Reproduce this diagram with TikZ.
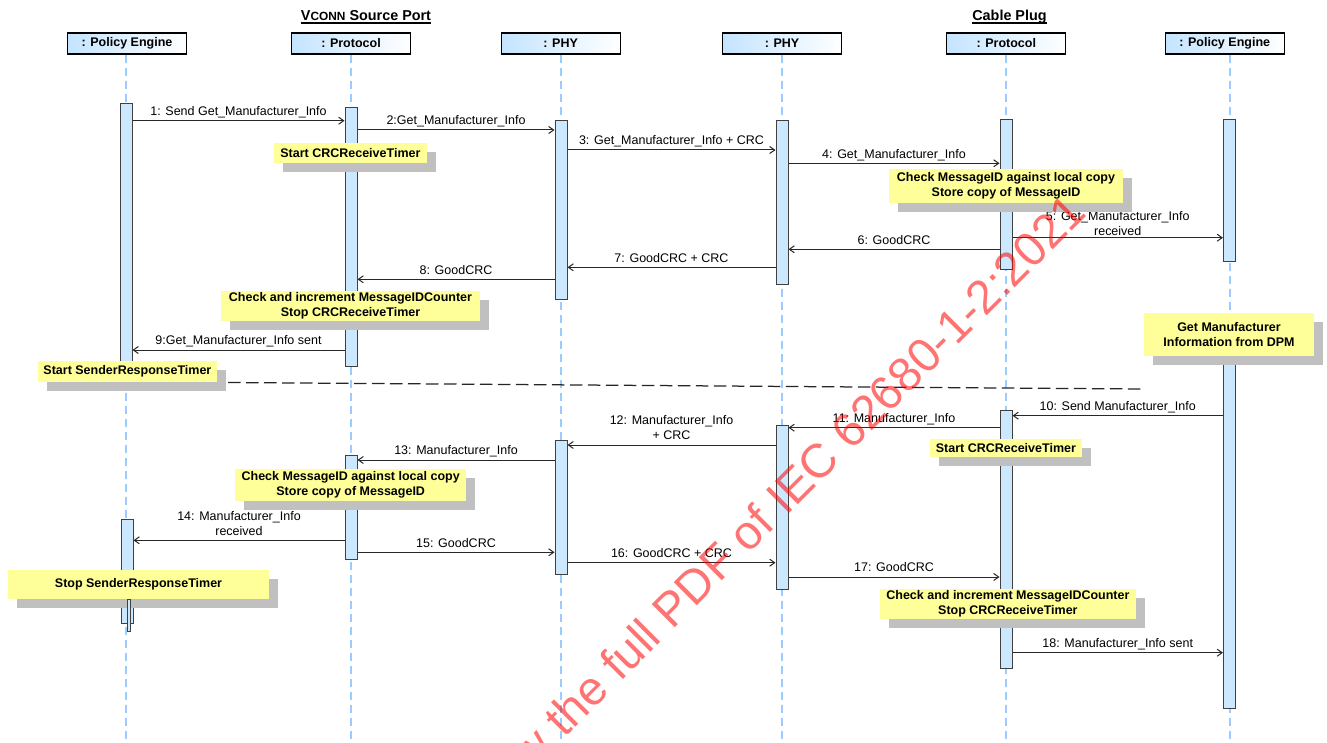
\documentclass[tikz,border=0pt]{standalone}
\usepackage{fontspec}
\setmainfont{Liberation Sans}
\usepackage{tikz}
\usetikzlibrary{arrows.meta, shadows, backgrounds}

\definecolor{lifeblue}{RGB}{153,204,255}
\definecolor{barblue}{RGB}{204,232,255}
\definecolor{headblue}{RGB}{196,228,255}
\definecolor{noteyellow}{RGB}{255,255,153}
\definecolor{shadowgray}{RGB}{192,192,192}
\definecolor{msggray}{RGB}{40,40,40}

\tikzstyle{head} = [rectangle, draw=black, line width=0.9pt, left color=headblue, right color=white, minimum width=95.2pt, minimum height=16.8pt, inner sep=0pt, font=\bfseries]
\tikzstyle{group} = [inner sep=0pt, anchor=base, font=\bfseries\fontsize{11.5}{13}\selectfont]
\tikzstyle{lifeline} = [draw=lifeblue, line width=1.6pt, dash pattern=on 6.4pt off 4pt]
\tikzstyle{bar} = [rectangle, draw=black!75, line width=0.8pt, fill=barblue, minimum width=9.6pt, inner sep=0pt]
\tikzstyle{note} = [rectangle, fill=noteyellow, inner sep=0pt, align=center, font=\bfseries, drop shadow={shadow xshift=7.2pt, shadow yshift=-7.2pt, fill=shadowgray, opacity=1}]
\tikzstyle{arrow} = [draw=msggray, line width=0.8pt, -{Straight Barb[length=4pt, width=5.6pt]}]
\tikzstyle{msglabel} = [above, inner sep=0pt, text depth=0pt, yshift=3.8pt, align=center]
\tikzstyle{separator} = [draw=black!85, line width=1pt, dash pattern=on 10pt off 4.4pt]
\tikzstyle{watermark} = [inner sep=0pt, rotate=45, text=red, text opacity=0.55, font=\fontsize{38}{40}\selectfont]

% activation bar: name, x, top, bottom
\newcommand{\actbar}[4]{\node[bar, anchor=north, minimum height={(#4-#3)*0.8pt}] (#1) at (#2,#3) {};}

\begin{document}
\begin{tikzpicture}[x=0.8pt, y=-0.8pt]
\useasboundingbox (0,0) rectangle (1327,743);

% port titles
\node[group] (vsrc) at (366,21) {V{\fontsize{9.5}{11}\selectfont CONN} Source Port};
\node[group] (cplug) at (1009.5,21) {Cable Plug};
\draw[line width=1pt] ([yshift=-1.6pt]vsrc.base west) -- ([yshift=-1.6pt]vsrc.base east);
\draw[line width=1pt] ([yshift=-1.6pt]cplug.base west) -- ([yshift=-1.6pt]cplug.base east);

% object heads
\node[head] (pe1) at (127,43.5) {: Policy Engine};
\node[head] (pr1) at (351,43.5) {: Protocol};
\node[head] (phy1) at (560.7,43.5) {: PHY};
\node[head] (phy2) at (782,43.5) {: PHY};
\node[head] (pr2) at (1006.3,43.5) {: Protocol};
\node[head] (pe2) at (1224.7,43.5) {: Policy Engine};

% activations
\actbar{pe1a}{126}{103}{372}
\actbar{pr1a}{351}{106.7}{365.7}
\actbar{phy1a}{561}{120}{298.7}
\actbar{phy2a}{782}{120}{284}
\actbar{pr2a}{1006}{119}{269}
\actbar{pe2a}{1229.5}{119}{261.3}
\actbar{pe2b}{1229.5}{330}{708}
\actbar{pr2b}{1006}{410.3}{668}
\actbar{phy2b}{782}{425}{589}
\actbar{phy1b}{561}{440.3}{574}
\actbar{pr1b}{351}{455}{559.3}
\actbar{pe1b}{127}{519}{623}

\begin{scope}[on background layer]
\fill[white] (0,0) rectangle (1327,743);
\draw[lifeline] (pe1a |- pe1.south) -- (pe1a |- 0,743);
\draw[lifeline] (pr1a |- pr1.south) -- (pr1a |- 0,743);
\draw[lifeline] (phy1a |- phy1.south) -- (phy1a |- 0,743);
\draw[lifeline] (phy2a |- phy2.south) -- (phy2a |- 0,743);
\draw[lifeline] (pr2a |- pr2.south) -- (pr2a |- 0,743);
\draw[lifeline] (pe2a |- pe2.south) -- (pe2a |- 0,743);
\end{scope}

% Get_Manufacturer_Info request
\draw[arrow] (pe1a.east |- 0,120.7) -- node[msglabel] {1: Send Get\_Manufacturer\_Info} (pr1a.west |- 0,120.7);
\draw[arrow] (pr1a.east |- 0,130) -- node[msglabel] {2:Get\_Manufacturer\_Info} (phy1a.west |- 0,130);
\draw[arrow] (phy1a.east |- 0,150) -- node[msglabel] {3: Get\_Manufacturer\_Info + CRC} (phy2a.west |- 0,150);
\draw[arrow] (phy2a.east |- 0,163.3) -- node[msglabel] {4: Get\_Manufacturer\_Info} (pr2a.west |- 0,163.3);
\draw[arrow] (pr2a.east |- 0,237.7) -- node[msglabel, yshift=-2.6pt] {5: Get\_Manufacturer\_Info\\received} (pe2a.west |- 0,237.7);
\draw[arrow] (pr2a.west |- 0,249.3) -- node[msglabel] {6: GoodCRC} (phy2a.east |- 0,249.3);
\draw[arrow] (phy2a.west |- 0,267.3) -- node[msglabel] {7: GoodCRC + CRC} (phy1a.east |- 0,267.3);
\draw[arrow] (phy1a.west |- 0,279.3) -- node[msglabel] {8: GoodCRC} (pr1a.east |- 0,279.3);
\draw[arrow] (pr1a.west |- 0,350) -- node[msglabel] {9:Get\_Manufacturer\_Info sent} (pe1a.east |- 0,350);

% Manufacturer_Info response
\draw[arrow] (pe2b.west |- 0,415.7) -- node[msglabel] {10: Send Manufacturer\_Info} (pr2b.east |- 0,415.7);
\draw[arrow] (pr2b.west |- 0,427.7) -- node[msglabel] {11: Manufacturer\_Info} (phy2b.east |- 0,427.7);
\draw[arrow] (phy2b.west |- 0,445) -- node[msglabel] {12: Manufacturer\_Info\\+ CRC} (phy1b.east |- 0,445);
\draw[arrow] (phy1b.west |- 0,460) -- node[msglabel] {13: Manufacturer\_Info} (pr1b.east |- 0,460);
\draw[arrow] (pr1b.west |- 0,540.3) -- node[msglabel] {14: Manufacturer\_Info\\received} (pe1b.east |- 0,540.3);
\draw[arrow] (pr1b.east |- 0,552.3) -- node[msglabel] {15: GoodCRC} (phy1b.west |- 0,552.3);
\draw[arrow] (phy1b.east |- 0,562.7) -- node[msglabel] {16: GoodCRC + CRC} (phy2b.west |- 0,562.7);
\draw[arrow] (phy2b.east |- 0,577) -- node[msglabel] {17: GoodCRC} (pr2b.west |- 0,577);
\draw[arrow] (pr2b.east |- 0,652.7) -- node[msglabel] {18: Manufacturer\_Info sent} (pe2b.west |- 0,652.7);

% notes
\node[note, minimum width=122.2pt, minimum height=16.5pt] (crcstartA) at (350.4,153) {Start CRCReceiveTimer};
\node[note, minimum width=187.2pt, minimum height=27.4pt] (checkidA) at (1006,186.2) {Check MessageID against local copy\\Store copy of MessageID};
\node[note, minimum width=207.2pt, minimum height=23.8pt] (incrA) at (350.5,305.9) {Check and increment MessageIDCounter\\Stop CRCReceiveTimer};
\node[note, minimum width=143pt, minimum height=16.3pt] (srtstart) at (127.4,371.5) {Start SenderResponseTimer};
\node[note, minimum width=136pt, minimum height=33.9pt] (getdpm) at (1229,334.5) {Get Manufacturer\\Information from DPM};
\node[note, minimum width=121.4pt, minimum height=13.9pt] (crcstartB) at (1005.9,448) {Start CRCReceiveTimer};
\node[note, minimum width=184.6pt, minimum height=25.8pt] (checkidB) at (350.7,485.2) {Check MessageID against local copy\\Store copy of MessageID};
\node[note, minimum width=208.8pt, minimum height=23.2pt] (srtstop) at (138.5,584.5) {Stop SenderResponseTimer};
\node[note, minimum width=204.6pt, minimum height=24pt] (incrB) at (1007.9,604) {Check and increment MessageIDCounter\\Stop CRCReceiveTimer};

\node[bar, line width=0.6pt, minimum width=2.4pt, minimum height=25.6pt, anchor=north] (pe1c) at (128.5,599) {};

% separator between the two exchanges
\coordinate (sepL) at (228,382.5);
\coordinate (sepR) at (1143,389);
\draw[separator] (sepL) -- (sepR);

\begin{scope}
\clip (0,0) rectangle (1327,743);
\node[watermark, anchor=base west] (wm) at (368,935) {Click to view the full PDF of IEC 62680-1-2:2021};
\end{scope}
\end{tikzpicture}
\end{document}
